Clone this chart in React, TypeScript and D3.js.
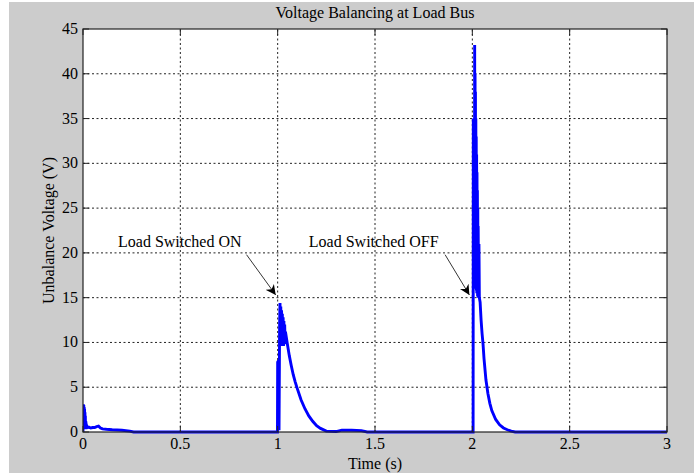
import { useMemo } from 'react';
import * as d3 from 'd3';

const W = 694;
const H = 473;
const M = { top: 29, right: 27, bottom: 41, left: 83 };

const TITLE = 'Voltage Balancing at Load Bus';
const X_LABEL = 'Time (s)';
const Y_LABEL = 'Unbalance Voltage (V)';

const X_TICKS = [0, 0.5, 1, 1.5, 2, 2.5, 3];
const Y_TICKS = [0, 5, 10, 15, 20, 25, 30, 35, 40, 45];

// time (s) / unbalance voltage (V)
const TIME = [
  0, 0.002, 0.003, 0.004, 0.005, 0.006, 0.007, 0.008, 0.009, 0.01, 0.011, 0.012, 0.013, 0.014, 0.016, 0.02,
  0.025, 0.03, 0.04, 0.05, 0.06, 0.07, 0.08, 0.09, 0.1, 0.12, 0.15, 0.2, 0.24, 0.26,
  0.999, 1.0, 1.005, 1.007, 1.01, 1.012, 1.014, 1.016, 1.018, 1.02, 1.022, 1.024, 1.026, 1.028, 1.03,
  1.032, 1.034, 1.036, 1.038, 1.04, 1.05, 1.06, 1.07, 1.08, 1.09, 1.1, 1.12, 1.14, 1.16, 1.18, 1.2, 1.22,
  1.25, 1.3, 1.33, 1.38, 1.43, 1.46,
  2.004, 2.005, 2.007, 2.009, 2.011, 2.012, 2.013, 2.014, 2.015, 2.016, 2.017, 2.018, 2.019, 2.02, 2.021,
  2.022, 2.023, 2.024, 2.025, 2.026, 2.027, 2.028, 2.029, 2.03, 2.032, 2.034, 2.036, 2.04, 2.045, 2.05,
  2.055, 2.06, 2.07, 2.08, 2.09, 2.1, 2.12, 2.14, 2.16, 2.18, 2.2, 2.22,
  3.0,
];
const VOLT = [
  0, 3.1, 0.4, 3.0, 0.3, 2.8, 0.4, 2.6, 0.3, 2.2, 0.4, 1.8, 0.3, 1.2, 0.9, 0.6,
  0.5, 0.55, 0.45, 0.5, 0.5, 0.6, 0.65, 0.45, 0.35, 0.3, 0.25, 0.2, 0.1, 0,
  0, 7.8, 8.0, 0.2, 12.0, 14.4, 10.0, 14.0, 9.8, 13.6, 9.6, 13.2, 9.6, 12.8, 9.6,
  12.4, 9.8, 12.0, 10.0, 11.2, 9.8, 8.5, 7.4, 6.4, 5.6, 4.9, 3.6, 2.6, 1.8, 1.2, 0.7, 0.4,
  0.1, 0.05, 0.2, 0.2, 0.15, 0,
  0, 35, 16, 24, 16, 43.2, 17, 40, 16.5, 38, 16, 35, 16, 33, 15.8,
  31, 15.5, 29, 15.5, 27, 15.2, 25, 15, 23, 15, 21, 15, 14.5, 12.5, 11,
  9.8, 8.2, 5.8, 4.3, 3.2, 2.4, 1.4, 0.8, 0.45, 0.25, 0.1, 0,
  0,
];

const ANNOTATIONS = [
  { text: 'Load Switched ON', tx: 0.18, ty: 20.7, ax0: 0.84, ay0: 19.8, ax1: 0.99, ay1: 15.3 },
  { text: 'Load Switched OFF', tx: 1.16, ty: 20.7, ax0: 1.86, ay0: 19.8, ax1: 1.985, ay1: 15.3 },
];

const FONT = '"Liberation Serif", "Times New Roman", serif';

export default function App() {
  const x = d3.scaleLinear().domain([0, 3]).range([M.left, W - M.right]);
  const y = d3.scaleLinear().domain([0, 45]).range([H - M.bottom, M.top]);

  const path = useMemo(() => {
    const pts: [number, number][] = TIME.map((t, i) => [t, VOLT[i]]);
    return d3
      .line<[number, number]>()
      .x((d) => x(d[0]))
      .y((d) => y(d[1]))(pts);
  }, []);

  const x0 = M.left;
  const x1 = W - M.right;
  const y0 = H - M.bottom;
  const y1 = M.top;

  return (
    <div style={{ position: 'fixed', left: 0, top: 0 }}>
      <svg width={W} height={H} style={{ display: 'block' }} fontFamily={FONT}>
        <defs>
          <marker id="arr" viewBox="0 0 10 10" refX="10" refY="5" markerWidth="12" markerHeight="10" orient="auto" markerUnits="userSpaceOnUse">
            <path d="M0,0 L10,5 L0,10 L3,5 Z" fill="#000" />
          </marker>
          <clipPath id="plot">
            <rect x={x0} y={y1 - 2} width={x1 - x0} height={y0 - y1 + 4} />
          </clipPath>
        </defs>
        <rect x={0} y={0} width={W} height={H} fill="#fff" />
        <rect x={9} y={2} width={W - 9} height={H - 2} fill="#cccccc" />
        <rect x={x0} y={y1} width={x1 - x0} height={y0 - y1} fill="#fff" />

        {X_TICKS.slice(1, -1).map((t) => (
          <line key={'gx' + t} x1={x(t)} x2={x(t)} y1={y0} y2={y1} stroke="#222" strokeDasharray="2,2.5" />
        ))}
        {Y_TICKS.slice(1, -1).map((v) => (
          <line key={'gy' + v} x1={x0} x2={x1} y1={y(v)} y2={y(v)} stroke="#222" strokeDasharray="2,2.5" />
        ))}

        <path d={path ?? ''} fill="none" stroke="#0000ff" strokeWidth={2.9} strokeLinejoin="miter" clipPath="url(#plot)" />

        <rect x={x0} y={y1} width={x1 - x0} height={y0 - y1} fill="none" stroke="#222" strokeWidth={1.2} />
        {X_TICKS.map((t) => (
          <g key={'tx' + t}>
            <line x1={x(t)} x2={x(t)} y1={y0} y2={y0 - 6} stroke="#222" />
            <line x1={x(t)} x2={x(t)} y1={y1} y2={y1 + 6} stroke="#222" />
            <text x={x(t)} y={y0 + 17} textAnchor="middle" fontSize={16} fill="#000">
              {t}
            </text>
          </g>
        ))}
        {Y_TICKS.map((v) => (
          <g key={'ty' + v}>
            <line x1={x0} x2={x0 + 6} y1={y(v)} y2={y(v)} stroke="#222" />
            <line x1={x1} x2={x1 - 6} y1={y(v)} y2={y(v)} stroke="#222" />
            <text x={x0 - 5} y={y(v) + 5} textAnchor="end" fontSize={16} fill="#000">
              {v}
            </text>
          </g>
        ))}

        {ANNOTATIONS.map((a) => (
          <g key={a.text}>
            <text x={x(a.tx)} y={y(a.ty)} fontSize={16} fill="#000">
              {a.text}
            </text>
            <line x1={x(a.ax0)} y1={y(a.ay0)} x2={x(a.ax1)} y2={y(a.ay1)} stroke="#000" strokeWidth={0.8} markerEnd="url(#arr)" />
          </g>
        ))}

        <text x={(x0 + x1) / 2} y={18} textAnchor="middle" fontSize={16} fill="#000">
          {TITLE}
        </text>
        <text x={(x0 + x1) / 2} y={469} textAnchor="middle" fontSize={16} fill="#000">
          {X_LABEL}
        </text>
        <text transform={`translate(54,${(y0 + y1) / 2}) rotate(-90)`} textAnchor="middle" fontSize={16} fill="#000">
          {Y_LABEL}
        </text>
      </svg>
    </div>
  );
}
